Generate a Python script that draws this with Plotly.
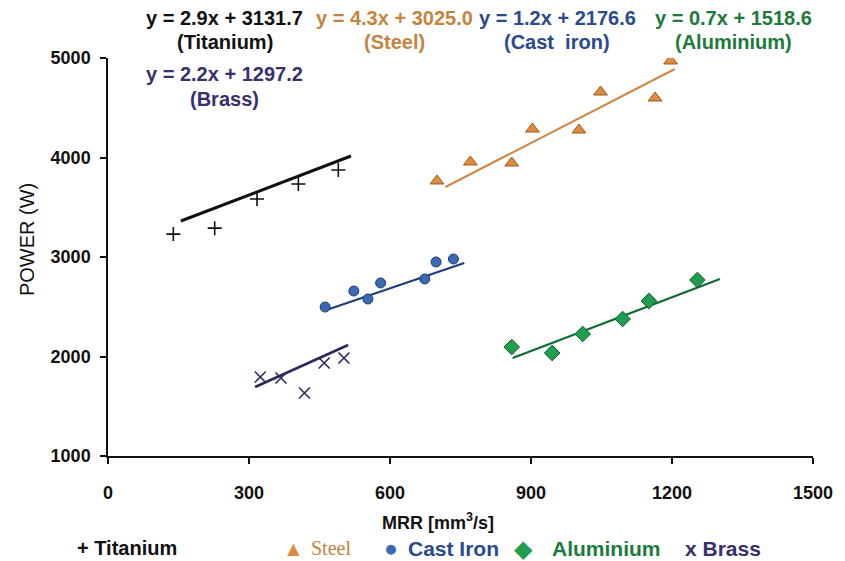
import plotly.graph_objects as go

# ---------------- data ----------------
ti_x = [139, 227, 317, 405, 490]
ti_y = [3230, 3290, 3583, 3734, 3874]
ti_fit_x = [155, 517]
ti_fit_y = [3362, 4015]

st_x = [700, 771, 859, 903, 1002, 1048, 1164, 1197]
st_y = [3764, 3955, 3945, 4286, 4276, 4658, 4598, 4970]
st_fit_x = [718, 1206]
st_fit_y = [3703, 4889]

ci_x = [462, 523, 553, 580, 674, 698, 735]
ci_y = [2497, 2658, 2578, 2739, 2779, 2950, 2980]
ci_fit_x = [471, 758]
ci_fit_y = [2477, 2940]

al_x = [859, 945, 1010, 1095, 1151, 1254]
al_y = [2095, 2035, 2226, 2377, 2558, 2769]
al_fit_x = [861, 1302]
al_fit_y = [1985, 2779]

br_x = [324, 368, 418, 460, 502]
br_y = [1794, 1784, 1633, 1935, 1985]
br_fit_x = [313, 511]
br_fit_y = [1693, 2116]

x_ticks = [0, 300, 600, 900, 1200, 1500]
y_ticks = [1000, 2000, 3000, 4000, 5000]

equations = ["y = 2.9x + 3131.7", "y = 4.3x + 3025.0", "y = 1.2x + 2176.6",
             "y = 0.7x + 1518.6", "y = 2.2x + 1297.2"]
eq_names = ["(Titanium)", "(Steel)", "(Cast  iron)", "(Aluminium)", "(Brass)"]

# ---------------- style ----------------
W, H = 845, 561
ML, MR, MT, MB = 108, 23, 58, 105
FONT = "Liberation Sans, Arial, Helvetica, sans-serif"
SERIF = "Liberation Serif, Times New Roman, serif"

C_TI = "#111111"
C_ST = "#E08C3E"
C_ST_LINE = "#D08844"
C_ST_TXT = "#C4843F"
C_CI = "#3C6AB2"
C_CI_LINE = "#1F3D7A"
C_CI_TXT = "#2B4A8C"
C_AL = "#1E9E4E"
C_AL_LINE = "#0F6A32"
C_AL_TXT = "#1C7A3A"
C_BR = "#2A2A5C"
C_BR_TXT = "#3A2F6C"


def px_x(px):
    return (px - ML) / (W - ML - MR)


def px_y(py):
    return (H - MB - py) / (H - MT - MB)


fig = go.Figure()

# trend lines
for fx, fy, col, wd in [(ti_fit_x, ti_fit_y, C_TI, 3),
                        (st_fit_x, st_fit_y, C_ST_LINE, 2.2),
                        (ci_fit_x, ci_fit_y, C_CI_LINE, 2.2),
                        (al_fit_x, al_fit_y, C_AL_LINE, 2.2),
                        (br_fit_x, br_fit_y, C_BR, 2.6)]:
    fig.add_trace(go.Scatter(x=fx, y=fy, mode="lines",
                             line=dict(color=col, width=wd),
                             showlegend=False, hoverinfo="skip"))

# data points
fig.add_trace(go.Scatter(x=ti_x, y=ti_y, mode="markers", name="Titanium",
                         marker=dict(symbol="cross-thin", size=10,
                                     line=dict(color=C_TI, width=1.6))))
fig.add_trace(go.Scatter(x=st_x, y=st_y, mode="markers", name="Steel",
                         marker=dict(symbol="triangle-up", size=12, color=C_ST,
                                     line=dict(color="#9A5A22", width=1))))
fig.add_trace(go.Scatter(x=ci_x, y=ci_y, mode="markers", name="Cast Iron",
                         marker=dict(symbol="circle", size=10, color=C_CI,
                                     line=dict(color="#1C3C78", width=1))))
fig.add_trace(go.Scatter(x=al_x, y=al_y, mode="markers", name="Aluminium",
                         marker=dict(symbol="diamond", size=12, color=C_AL,
                                     line=dict(color="#0B5A2A", width=1))))
fig.add_trace(go.Scatter(x=br_x, y=br_y, mode="markers", name="Brass",
                         marker=dict(symbol="x-thin", size=11,
                                     line=dict(color=C_BR, width=1.6))))

annotations = []
# equations
eq_pos = [(226, 18, 42), (398, 18, 42), (563, 18, 42), (741, 18, 42), (226, 74, 99)]
eq_cols = [C_TI, C_ST_TXT, C_CI_TXT, C_AL_TXT, C_BR_TXT]
for (cx, ey, ny), eq, nm, col in zip(eq_pos, equations, eq_names, eq_cols):
    for txt, yy in [(eq, ey), (nm, ny)]:
        annotations.append(dict(text="<b>%s</b>" % txt, x=px_x(cx), y=px_y(yy),
                                xref="paper", yref="paper", showarrow=False,
                                xanchor="center", yanchor="middle",
                                font=dict(family=FONT, size=20, color=col)))

# axis titles
annotations.append(dict(text="POWER (W)", x=px_x(26), y=px_y(240), xref="paper",
                        yref="paper", showarrow=False, textangle=-90,
                        xanchor="center", yanchor="middle",
                        font=dict(family=FONT, size=20, color="#111111")))
annotations.append(dict(text="<b>MRR [mm<sup>3</sup>/s]</b>", x=px_x(442), y=px_y(521),
                        xref="paper", yref="paper", showarrow=False,
                        xanchor="center", yanchor="middle",
                        font=dict(family=FONT, size=18, color="#111111")))

# legend (custom row)
leg_y = px_y(548)
leg_items = [
    ("<b>+ Titanium</b>", 75, "left", FONT, 20, C_TI),
    ("\u25B2", 296, "center", FONT, 21, C_ST),
    ("Steel", 312, "left", SERIF, 20, C_ST_TXT),
    ("\u25CF", 395, "center", FONT, 23, C_CI),
    ("<b>Cast Iron</b>", 410, "left", FONT, 21, C_CI_TXT),
    ("\u25C6", 529, "center", FONT, 24, C_AL),
    ("<b>Aluminium</b>", 556, "left", FONT, 21, C_AL_TXT),
    ("<b>x Brass</b>", 690, "left", FONT, 21, C_BR_TXT),
]
for txt, px, anc, fam, sz, col in leg_items:
    annotations.append(dict(text=txt, x=px_x(px), y=leg_y, xref="paper", yref="paper",
                            showarrow=False, xanchor=anc, yanchor="middle",
                            font=dict(family=fam, size=sz, color=col)))

fig.update_layout(
    width=W, height=H,
    margin=dict(l=ML, r=MR, t=MT, b=MB),
    paper_bgcolor="white", plot_bgcolor="white",
    showlegend=False,
    annotations=annotations,
    font=dict(family=FONT, color="#111111"),
)
fig.update_xaxes(range=[0, 1500], tickvals=x_ticks, ticktext=[str(v) for v in x_ticks],
                 showgrid=False, zeroline=False, showline=True, linecolor="#111111",
                 linewidth=1.5, ticks="outside", ticklen=6, tickcolor="#111111",
                 tickwidth=1.5, ticklabelstandoff=14,
                 tickfont=dict(family=FONT, size=18, color="#111111", weight="bold"))
fig.update_yaxes(range=[1000, 5000], tickvals=y_ticks, ticktext=[str(v) for v in y_ticks],
                 showgrid=False, zeroline=False, showline=True, linecolor="#111111",
                 linewidth=1.5, ticks="outside", ticklen=6, tickcolor="#111111",
                 tickwidth=1.5, ticklabelstandoff=6,
                 tickfont=dict(family=FONT, size=18, color="#111111", weight="bold"))

fig.write_html("out.html", config={"displayModeBar": False},
               post_script="document.body.style.margin='0';document.body.style.padding='0';"
                           "document.documentElement.style.overflow='hidden';")
